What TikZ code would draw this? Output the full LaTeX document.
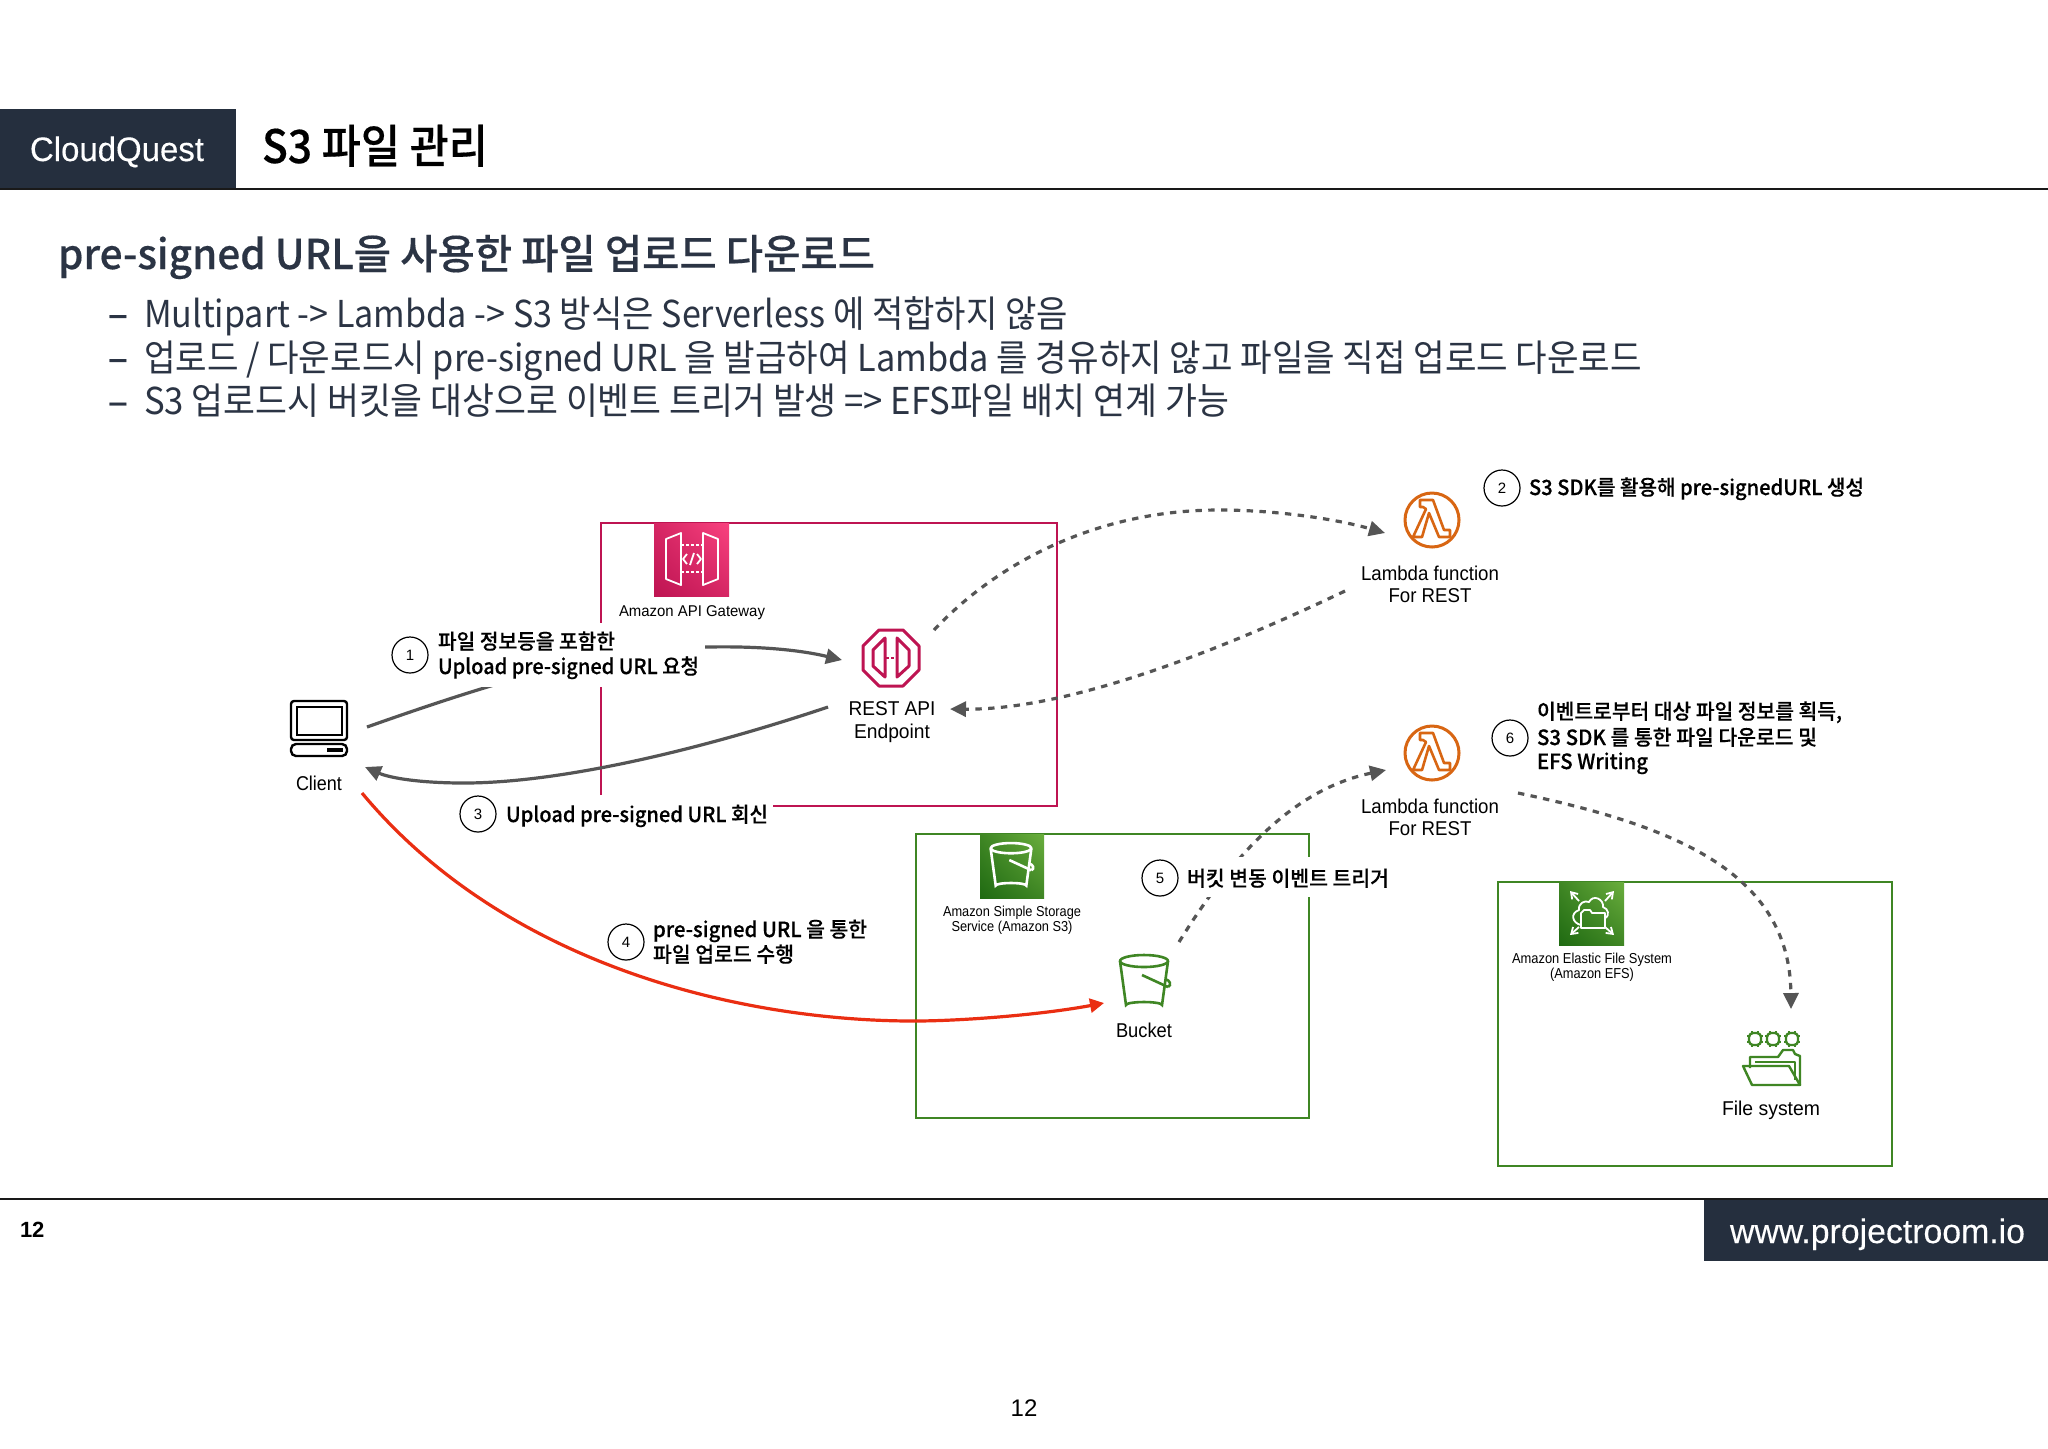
\documentclass[tikz,border=0pt]{standalone}
\usepackage{graphicx}
\usepackage{fontspec}
\usetikzlibrary{arrows.meta,shadings}
\setmainfont{Liberation Sans}
\newfontfamily\krr{Noto Sans CJK KR}
\newfontfamily\krb{Noto Sans CJK KR Medium}[FakeBold=0.35]
\newfontfamily\lsm{Liberation Sans}[FakeBold=0.25]
\newsavebox\ftbox
\newcommand\ftw[2]{\sbox\ftbox{#2}\pgfmathsetmacro\ftr{#1*0.5/\the\wd\ftbox}\scalebox{\ftr}[1]{#2}}
\definecolor{navy}{HTML}{252F3E}
\definecolor{inkblue}{HTML}{2B3444}
\definecolor{crim}{HTML}{BE1452}
\definecolor{crimlite}{HTML}{F9427F}
\definecolor{grn}{HTML}{3F8624}
\definecolor{grndark}{HTML}{1F6A12}
\definecolor{grnlite}{HTML}{6AAE3D}
\definecolor{orng}{HTML}{D86613}
\definecolor{grey}{HTML}{555555}
\definecolor{redline}{HTML}{EA2E12}
\tikzset{
  x=0.5pt,y=-0.5pt,
  base/.style={inner sep=0pt,outer sep=0pt,anchor=base west,yshift=-1pt},
  title/.style={base,font=\krb\fontsize{23}{23}\selectfont,text=black},
  heading/.style={base,font=\krb\fontsize{20.5}{21}\selectfont,text=inkblue},
  bullet/.style={base,font=\krr\fontsize{18.5}{19}\selectfont,text=inkblue},
  stepl/.style={base,yshift=0.5pt,font=\krb\fontsize{10.5}{11}\selectfont,text=black},
  awsl/.style={inner sep=0pt,yshift=-0.2pt,font=\fontsize{10}{11}\selectfont,text=black},
  smalll/.style={inner sep=0pt,yshift=-0.8pt,font=\fontsize{7.2}{8}\selectfont,text=black},
  num/.style={circle,draw=black,line width=0.6pt,minimum size=18pt,inner sep=0pt,fill=white,font=\fontsize{7.5}{8}\selectfont},
  iconbox/.style={inner sep=0pt,outer sep=0pt,minimum width=28pt,minimum height=28pt},
  group/.style={line width=1.2pt},
  mask/.style={fill=white,draw=none},
  flow/.style={draw=grey,line width=1.6pt,-{Triangle[length=8pt,width=7.5pt]}},
  dflow/.style={draw=grey,line width=1.6pt,dash pattern=on 3.2pt off 3.2pt,-{Triangle[length=8pt,width=7.5pt]}},
  redflow/.style={draw=redline,line width=1.6pt,-{Triangle[length=7pt,width=7pt]}},
  lambdaicon/.pic={
    \draw[orng,line width=1.5pt] (0,0) circle[radius=27];
    \draw[orng,line width=1.3pt,line join=round] (-12,-20)--(1,-20)--(12,10)--(18,10)--(18,17)--(7,17)--(-3,-7)--(-10,17)--(-19,17)--(-6,-11)--(-9,-13)--(-12,-13)--cycle;
  },
  bucketicon/.pic={
    \draw[line width=1.3pt,pic actions,fill=none,line join=round] (0,-21) ellipse[x radius=24,y radius=6];
    \draw[line width=1.3pt,pic actions,fill=none] (-24,-21)--(-18,23) arc[start angle=180,end angle=360,x radius=18,y radius=3]--(24,-21);
    \draw[line width=1.3pt,pic actions,fill=none] (-2,-7)--(24,5);
    \draw[line width=1.3pt,pic actions,fill=none] (24,5) .. controls (28,3) and (26,-2) .. (21,-3);
  },
}
\begin{document}
\begin{tikzpicture}
\useasboundingbox (0,0) rectangle (2048,1448);
\fill[white] (0,0) rectangle (2048,1448);
% header and footer
\fill[navy] (0,109) rectangle (236,188);
\draw[black!90,line width=1pt] (0,188.5)--(2048,188.5);
\draw[black!90,line width=1pt] (0,1199)--(2048,1199);
\fill[navy] (1704,1200) rectangle (2048,1261);
\node[base,yshift=0.5pt,font=\lsm\fontsize{17}{17}\selectfont,text=white] (brand) at (30,160) {\ftw{174}{CloudQuest}};
\node[title] (ttl) at (262,161) {\ftw{226}{S3 파일 관리}};
\node[heading] (hd) at (58,267) {\ftw{817}{pre-signed URL을 사용한 파일 업로드 다운로드}};
\node[bullet,font=\krb\fontsize{18.5}{19}\selectfont] (d1) at (108,325) {–};
\node[bullet,font=\krb\fontsize{18.5}{19}\selectfont] (d2) at (108,369) {–};
\node[bullet,font=\krb\fontsize{18.5}{19}\selectfont] (d3) at (108,412.5) {–};
\node[bullet] (b1) at (144,325) {\ftw{924}{Multipart -> Lambda -> S3 방식은 Serverless 에 적합하지 않음}};
\node[bullet] (b2) at (144,369) {\ftw{1498}{업로드 / 다운로드시 pre-signed URL 을 발급하여 Lambda 를 경유하지 않고 파일을 직접 업로드 다운로드}};
\node[bullet] (b3) at (144,412.5) {\ftw{1085}{S3 업로드시 버킷을 대상으로 이벤트 트리거 발생 => EFS파일 배치 연계 가능}};
\node[base,yshift=1pt,font=\bfseries\fontsize{11}{11}\selectfont] (pg1) at (20,1237) {12};
\node[base,font=\lsm\fontsize{17}{17}\selectfont,text=white,yshift=1pt] (site) at (1730,1243) {\ftw{295}{www.projectroom.io}};
\node[inner sep=0pt,font=\fontsize{12}{12}\selectfont] (pg2) at (1024,1408) {12};
% groups
\draw[crim,group] (601,523) rectangle (1057,806);
\draw[grn,group] (916,834) rectangle (1309,1118);
\draw[grn,group] (1498,882) rectangle (1892,1166);
% anchor nodes
\node[iconbox] (client) at (319,728) {};
\node[iconbox] (rest) at (891,658) {};
\node[iconbox] (lamA) at (1432,520) {};
\node[iconbox] (lamB) at (1432,753) {};
\node[iconbox] (bucket) at (1144,982) {};
\node[iconbox] (fs) at (1771,1058) {};
% connectors
\draw[flow] ([shift={(20,-1)}]client.east) .. controls (500,680) and (610,647) .. (708,647) .. controls (760,646) and (800,650) .. ([shift={(-21,2)}]rest.west);
\draw[flow] ([shift={(-35,49)}]rest.west) .. controls (700,750) and (560,783) .. (464,783) .. controls (420,783) and (390,778) .. ([shift={(18,39)}]client.east);
\draw[redflow] ([shift={(15,65)}]client.east) .. controls (505,965) and (740,1021) .. (914,1021) .. controls (960,1021) and (1040,1015) .. ([shift={(-12,21)}]bucket.west);
\draw[dflow] ([shift={(15,-28)}]rest.east) .. controls (1000,560) and (1100,510) .. (1219,510) .. controls (1280,510) and (1340,520) .. ([shift={(-19,13)}]lamA.west);
\draw[dflow] ([shift={(-59,71)}]lamA.west) .. controls (1200,660) and (1060,710) .. ([shift={(31,51)}]rest.east);
\draw[dflow] ([shift={(35,-40)}]bucket.center) .. controls (1230,860) and (1290,790) .. ([shift={(-18,17)}]lamB.west);
\draw[dflow] ([shift={(58,40)}]lamB.east) .. controls (1670,825) and (1790,870) .. ([shift={(20,-49)}]fs.center);
% masks behind step labels
\fill[mask] (392,623) rectangle (705,687);
\fill[mask] (458,795) rectangle (773,835);
\fill[mask] (1140,857) rectangle (1395,897);
% step labels
\node[num] (n1) at (410,655) {1};
\node[stepl] (t1a) at (438,648) {\ftw{177}{파일 정보등을 포함한}};
\node[stepl] (t1b) at (438,673) {\ftw{261}{Upload pre-signed URL 요청}};
\node[num] (n2) at (1502,488) {2};
\node[stepl] (t2) at (1529,494) {\ftw{335}{S3 SDK를 활용해 pre-signedURL 생성}};
\node[num] (n3) at (478,814) {3};
\node[stepl] (t3) at (506,821) {\ftw{262}{Upload pre-signed URL 회신}};
\node[num] (n4) at (626,942) {4};
\node[stepl] (t4a) at (653,936) {\ftw{214}{pre-signed URL 을 통한}};
\node[stepl] (t4b) at (653,961) {\ftw{141}{파일 업로드 수행}};
\node[num] (n5) at (1160,878) {5};
\node[stepl] (t5) at (1187,885) {\ftw{202}{버킷 변동 이벤트 트리거}};
\node[num] (n6) at (1510,738) {6};
\node[stepl] (t6a) at (1537,718) {\ftw{305}{이벤트로부터 대상 파일 정보를 획득,}};
\node[stepl] (t6b) at (1537,744) {\ftw{280}{S3 SDK 를 통한 파일 다운로드 및}};
\node[stepl] (t6c) at (1537,768) {\ftw{111}{EFS Writing}};
% service labels
\node[awsl] (lc) at (319,783) {\ftw{46}{Client}};
\node[awsl] (lr1) at (892,708) {\ftw{87}{REST API}};
\node[awsl] (lr2) at (892,733) {\ftw{76}{Endpoint}};
\node[awsl] (la1) at (1430,573) {\ftw{138}{Lambda function}};
\node[awsl] (la2) at (1430,595) {\ftw{83}{For REST}};
\node[awsl] (lb1) at (1430,806) {\ftw{138}{Lambda function}};
\node[awsl] (lb2) at (1430,828) {\ftw{83}{For REST}};
\node[awsl] (lbk) at (1144,1030) {\ftw{56}{Bucket}};
\node[awsl] (lfs) at (1771,1110) {\ftw{98}{File system}};
\node[inner sep=0pt,yshift=-0.8pt,font=\fontsize{7.8}{8}\selectfont] (lapi) at (692,611) {\ftw{146}{Amazon API Gateway}};
\node[smalll] (ls1) at (1012,911) {\ftw{138}{Amazon Simple Storage}};
\node[smalll] (ls2) at (1012,926) {\ftw{121}{Service (Amazon S3)}};
\node[smalll] (le1) at (1592,958) {\ftw{160}{Amazon Elastic File System}};
\node[smalll] (le2) at (1592,973) {\ftw{84}{(Amazon EFS)}};
% API gateway icon
\shade[lower left=crim,upper right=crimlite,lower right=crim!60!crimlite,upper left=crim!60!crimlite] (654,523) rectangle (729,596);
\begin{scope}[shift={(692,559)},draw=white,line width=0.9pt,line join=round]
\draw (-26,-20)--(-11,-26)--(-11,26)--(-26,20)--cycle;
\draw (26,-20)--(11,-26)--(11,26)--(26,20)--cycle;
\draw[dash pattern=on 1.5pt off 1pt] (-11,-14)--(11,-14);
\draw[dash pattern=on 1.5pt off 1pt] (-11,13)--(11,13);
\draw (-5,-5)--(-9,0)--(-5,5);
\draw (5,-5)--(9,0)--(5,5);
\draw (-2,6)--(2,-6);
\end{scope}
% REST icon
\begin{scope}[shift={(rest)},draw=crim,line width=1.5pt,line join=round]
\draw (-28,-12)--(-12,-28)--(12,-28)--(28,-12)--(28,12)--(12,28)--(-12,28)--(-28,12)--cycle;
\draw (-6,-20)--(-6,19)--(-18,8)--(-18,-8)--cycle;
\draw (6,-20)--(6,19)--(18,8)--(18,-8)--cycle;
\draw[line width=1.1pt,dash pattern=on 1.5pt off 1pt] (-5,0)--(5,0);
\end{scope}
% client icon
\begin{scope}[draw=black,line width=1.2pt]
\draw[rounded corners=1.5pt] (291,701) rectangle (347,740);
\draw (297,707) rectangle (342,735);
\draw[rounded corners=2.5pt] (291,744) rectangle (347,756);
\fill[black] (327,748) rectangle (343,752);
\end{scope}
% lambdas
\pic at (lamA) {lambdaicon};
\pic at (lamB) {lambdaicon};
% S3 icon
\shade[lower left=grndark,upper right=grnlite,lower right=grn,upper left=grn] (980,834) rectangle (1044,898);
\pic[draw=white,scale=0.85] at (1011,866) {bucketicon};
\pic[draw=grn] at (bucket) {bucketicon};
% EFS icon
\shade[lower left=grndark,upper right=grnlite,lower right=grn,upper left=grn] (1559,882) rectangle (1624,945);
\begin{scope}[shift={(1592,913)},draw=white,line width=0.9pt,line join=round]
\draw[-{Straight Barb[length=3pt,width=4pt]}] (-13,-12)--(-22,-22);
\draw[-{Straight Barb[length=3pt,width=4pt]}] (13,-12)--(22,-22);
\draw[-{Straight Barb[length=3pt,width=4pt]}] (-13,14)--(-22,22);
\draw[-{Straight Barb[length=3pt,width=4pt]}] (13,14)--(22,22);
\draw (-11,12) .. controls (-20,10) and (-22,0) .. (-13,-3) .. controls (-14,-10) and (-7,-13) .. (-3,-11) .. controls (1,-19) and (12,-14) .. (11,-6) .. controls (17,-4) and (17,2) .. (14,5);
\draw (-11,0) -- (-8,-3)--(-2,-3)--(0,0)--(13,0)--(13,15)--(-11,15)--cycle;
\end{scope}
% file system icon
\begin{scope}[draw=grn,line width=1.2pt,line join=round]
\foreach \cx in {1755,1773,1792}{
  \draw[rounded corners=2pt] (\cx-6,1033) rectangle (\cx+6,1045);
  \draw[line width=0.8pt] (\cx-3,1031)--(\cx-3,1033) (\cx+3,1031)--(\cx+3,1033) (\cx-3,1045)--(\cx-3,1047) (\cx+3,1045)--(\cx+3,1047) (\cx-8,1036)--(\cx-6,1036) (\cx-8,1042)--(\cx-6,1042) (\cx+6,1036)--(\cx+8,1036) (\cx+6,1042)--(\cx+8,1042);
}
\draw (1750,1068)--(1750,1057)--(1778,1057)--(1783,1050)--(1793,1050)--(1795,1054)--(1800,1056)--(1800,1085);
\draw (1755,1062)--(1795,1062)--(1795,1080);
\draw (1743,1066)--(1789,1066)--(1800,1085)--(1752,1085)--cycle;
\end{scope}
\end{tikzpicture}
\end{document}
